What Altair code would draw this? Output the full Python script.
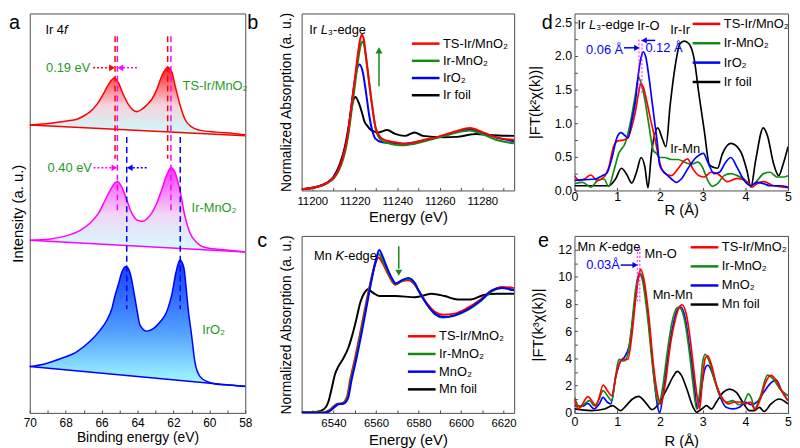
import altair as alt
import pandas as pd

FONT = "Arial"
RED = "#ff0000"
GRN = "#138a13"
BLU = "#0000ff"
BLK = "#000000"
MAG = "#ff00ff"
TGRN = "#1f9a1f"
FRAME = "#4d4d4d"

# ---------------- panel a : Ir 4f XPS ----------------
A_TS_E = [70.0, 68.85, 67.93, 67.37, 67.0, 66.63, 66.26, 65.9, 65.62, 65.29, 65.06, 64.79, 64.51, 64.23, 64.04,
          63.77, 63.49, 63.21, 62.93, 62.66, 62.32, 62.1, 61.92, 61.64, 61.36, 60.99, 60.53, 59.61, 58.69, 58.0]
A_TS_I = [291.3, 293.0, 295.3, 297.0, 300.3, 304.7, 312.0, 322.7, 332.0, 338.7, 333.7, 322.0, 312.0, 306.0, 304.7,
          307.0, 311.3, 317.0, 327.0, 340.3, 349.3, 345.3, 332.0, 312.0, 297.0, 289.3, 286.0, 284.0, 282.7, 281.3]
A_TS_BASE = [291.3, 280.3]
A_IR_E = [70.0, 68.85, 67.93, 67.19, 66.63, 66.17, 65.8, 65.52, 65.25, 65.12, 64.88, 64.6, 64.32, 64.04, 63.71,
          63.49, 63.21, 62.93, 62.66, 62.38, 62.14, 61.92, 61.64, 61.36, 61.08, 60.72, 60.16, 59.05, 58.0]
A_IR_I = [174.7, 176.0, 179.3, 184.7, 192.0, 202.0, 215.3, 225.3, 232.7, 233.7, 228.7, 215.3, 202.0, 195.3, 193.7,
          196.0, 202.0, 212.0, 225.3, 240.3, 248.0, 243.7, 225.3, 198.7, 182.0, 172.7, 167.0, 164.7, 162.7]
A_IR_BASE = [174.7, 162.7]
A_O2_E = [70.0, 69.22, 68.3, 67.37, 66.63, 66.08, 65.71, 65.43, 65.25, 65.06, 64.88, 64.64, 64.41, 64.23, 64.04,
          63.86, 63.49, 63.12, 62.75, 62.38, 62.2, 62.1, 61.86, 61.64, 61.42, 61.27, 61.18, 60.99, 60.81, 60.53,
          60.07, 59.42, 58.69, 58.0]
A_O2_I = [47.0, 49.3, 54.7, 62.0, 72.7, 83.7, 93.7, 105.3, 118.7, 130.3, 142.0, 148.0, 141.3, 125.3, 105.3,
          88.7, 82.7, 85.3, 92.0, 102.0, 112.0, 118.7, 142.0, 154.7, 147.0, 122.0, 105.3, 78.7, 52.0, 37.0,
          31.3, 28.7, 28.0, 27.0]
A_O2_BASE = [47.0, 26.7]
A_ENDS = [70.0, 58.0]
A_PEAKS_TS = [65.25, 62.32]
A_PEAKS_IR = [65.12, 62.14]
A_PEAKS_O2 = [64.60, 61.62]

# ---------------- panel b : Ir L3-edge XANES ----------------
B_NAMES = ["TS-Ir/MnO\u2082", "Ir-MnO\u2082", "IrO\u2082", "Ir foil"]
B_TS_E = [11195.0, 11202.3, 11206.9, 11210.0, 11212.2, 11214.5, 11216.8, 11218.3, 11219.9, 11221.4, 11222.6,
          11223.3, 11224.2, 11225.2, 11226.7, 11228.3, 11229.8, 11232.1, 11235.2, 11239.0, 11243.6, 11248.2,
          11252.8, 11258.9, 11268.0, 11274.2, 11280.3, 11286.4, 11295.0]
B_TS_V = [0.026, 0.074, 0.155, 0.26, 0.41, 0.68, 1.15, 1.68, 2.22, 2.76, 3.09, 3.17, 3.09, 2.76, 2.22, 1.68,
          1.28, 1.08, 1.01, 0.98, 0.95, 0.98, 1.03, 1.09, 1.21, 1.27, 1.18, 1.08, 1.03]
B_IR_E = [11195.0, 11202.3, 11206.9, 11210.0, 11212.2, 11214.5, 11216.8, 11218.5, 11220.1, 11221.6, 11222.8,
          11223.5, 11224.4, 11225.4, 11226.9, 11228.5, 11230.0, 11232.3, 11235.2, 11239.0, 11243.6, 11248.2,
          11252.8, 11258.9, 11268.0, 11274.2, 11280.3, 11286.4, 11295.0]
B_IR_V = [0.026, 0.07, 0.145, 0.24, 0.38, 0.63, 1.08, 1.62, 2.15, 2.66, 2.96, 3.03, 2.96, 2.66, 2.15, 1.62,
          1.22, 1.03, 0.97, 0.93, 0.92, 0.95, 1.0, 1.07, 1.18, 1.22, 1.14, 1.03, 0.96]
B_O2_E = [11195.0, 11202.3, 11206.9, 11210.0, 11212.2, 11214.5, 11216.8, 11218.3, 11219.9, 11221.1, 11222.2,
          11223.7, 11225.2, 11226.7, 11228.3, 11229.8, 11232.9, 11239.0, 11243.6, 11248.2, 11252.8, 11258.9,
          11268.0, 11273.5, 11280.3, 11286.4, 11295.0]
B_O2_V = [0.026, 0.074, 0.155, 0.26, 0.41, 0.68, 1.15, 1.68, 2.2, 2.48, 2.56, 2.42, 2.02, 1.55, 1.21, 1.05,
          0.98, 0.96, 0.95, 0.98, 1.02, 1.08, 1.19, 1.24, 1.17, 1.08, 1.0]
B_FOIL_E = [11195.0, 11202.3, 11206.9, 11210.0, 11213.0, 11215.3, 11217.3, 11218.8, 11220.3, 11221.9, 11223.4,
            11224.5, 11226.0, 11228.3, 11231.3, 11235.2, 11239.0, 11243.6, 11248.2, 11252.0, 11261.9, 11268.0,
            11277.2, 11283.3, 11295.0]
B_FOIL_V = [0.026, 0.074, 0.155, 0.28, 0.54, 0.88, 1.35, 1.75, 1.9, 1.78, 1.58, 1.41, 1.31, 1.21, 1.18, 1.23,
            1.15, 1.11, 1.18, 1.11, 1.08, 1.09, 1.15, 1.13, 1.11]

# ---------------- panel c : Mn K-edge XANES ----------------
C_NAMES = ["TS-Ir/MnO\u2082", "Ir-MnO\u2082", "MnO\u2082", "Mn foil"]
C_MN_E = [6525.0, 6535.4, 6538.4, 6540.7, 6542.3, 6544.6, 6546.9, 6548.4, 6550.8, 6553.1, 6555.4, 6557.7,
          6560.0, 6561.5, 6563.1, 6565.4, 6567.7, 6569.2, 6572.3, 6575.3, 6578.4, 6580.0, 6583.8, 6587.7,
          6591.5, 6596.9, 6603.0, 6609.2, 6614.6, 6619.2, 6625.0]
C_MN_V = [0.003, 0.0, 0.017, 0.055, 0.076, 0.081, 0.133, 0.28, 0.48, 0.69, 0.92, 1.15, 1.35, 1.436, 1.38,
          1.27, 1.18, 1.14, 1.17, 1.19, 1.14, 1.08, 0.96, 0.875, 0.846, 0.86, 0.91, 0.99, 1.08, 1.1, 1.08]
C_TS_E = [6525.0, 6535.4, 6538.0, 6540.2, 6541.8, 6544.0, 6546.3, 6547.8, 6550.2, 6552.5, 6554.8, 6557.1,
          6559.4, 6561.2, 6562.8, 6565.2, 6567.5, 6569.0, 6572.1, 6575.1, 6578.2, 6580.0, 6583.8, 6587.7,
          6591.5, 6596.9, 6603.0, 6609.2, 6614.6, 6619.2, 6625.0]
C_TS_V = [0.003, 0.005, 0.025, 0.06, 0.08, 0.085, 0.14, 0.29, 0.49, 0.7, 0.92, 1.13, 1.3, 1.37, 1.33, 1.24,
          1.16, 1.13, 1.16, 1.17, 1.13, 1.08, 0.97, 0.89, 0.865, 0.875, 0.925, 1.0, 1.08, 1.11, 1.1]
C_IR_E = [6525.0, 6535.4, 6538.2, 6540.4, 6542.0, 6544.3, 6546.6, 6548.1, 6550.5, 6552.8, 6555.1, 6557.4,
          6559.7, 6561.3, 6562.9, 6565.3, 6567.6, 6569.1, 6572.2, 6575.2, 6578.3, 6580.0, 6583.8, 6587.7,
          6591.5, 6596.9, 6603.0, 6609.2, 6614.6, 6619.2, 6625.0]
C_IR_V = [0.003, 0.003, 0.02, 0.057, 0.078, 0.083, 0.136, 0.285, 0.485, 0.695, 0.92, 1.14, 1.33, 1.40, 1.355,
          1.255, 1.17, 1.135, 1.165, 1.18, 1.135, 1.075, 0.96, 0.87, 0.84, 0.855, 0.905, 0.985, 1.07, 1.1, 1.08]
C_FOIL_E = [6525.0, 6532.3, 6535.4, 6537.7, 6539.2, 6540.7, 6542.3, 6544.6, 6546.9, 6548.9, 6550.8, 6552.7,
            6554.6, 6556.2, 6558.5, 6561.5, 6569.2, 6578.4, 6586.1, 6592.3, 6598.4, 6604.6, 6610.7, 6616.9,
            6625.0]
C_FOIL_V = [0.003, 0.011, 0.032, 0.105, 0.22, 0.34, 0.41, 0.48, 0.57, 0.69, 0.83, 0.98, 1.06, 1.09, 1.06,
            1.03, 1.03, 1.02, 1.05, 1.03, 1.0, 1.0, 1.04, 1.05, 1.05]

# ---------------- panel d : Ir L3-edge FT-EXAFS ----------------
D_FOIL_R = [0.0, 0.4, 0.8, 0.96, 1.1, 1.22, 1.34, 1.46, 1.56, 1.65, 1.72, 1.8, 1.95, 2.05, 2.14, 2.24, 2.36,
            2.47, 2.57, 2.68, 2.8, 2.92, 3.04, 3.16, 3.27, 3.35, 3.46, 3.66, 3.88, 4.04, 4.13, 4.24, 4.42, 4.52,
            4.66, 4.78, 4.89, 5.0]
D_FOIL_V = [0.07, 0.07, 0.07, 0.17, 0.33, 0.24, 0.11, 0.29, 0.49, 0.34, 0.04, 0.54, 0.93, 0.78, 0.65, 1.27,
            1.86, 2.18, 2.22, 2.18, 1.96, 1.4, 0.88, 0.38, 0.34, 0.33, 0.54, 0.7, 0.59, 0.29, 0.05, 0.44, 0.93,
            0.81, 0.4, 0.22, 0.4, 0.65]
D_TS_R = [0.0, 0.11, 0.23, 0.38, 0.53, 0.69, 0.8, 0.92, 1.03, 1.15, 1.25, 1.33, 1.42, 1.5, 1.55, 1.62, 1.7,
          1.8, 1.88, 1.96, 2.04, 2.15, 2.27, 2.42, 2.55, 2.65, 2.77, 2.92, 3.04, 3.19, 3.35, 3.58, 3.81, 4.04,
          4.16, 4.27, 4.43, 4.66, 4.89, 5.0]
D_TS_V = [0.22, 0.15, 0.17, 0.23, 0.15, 0.2, 0.34, 0.66, 0.74, 0.75, 0.78, 0.92, 1.15, 1.45, 1.58, 1.52, 1.3,
          1.0, 0.78, 0.52, 0.32, 0.24, 0.22, 0.32, 0.43, 0.47, 0.32, 0.22, 0.2, 0.27, 0.25, 0.13, 0.18, 0.13,
          0.05, 0.1, 0.13, 0.07, 0.05, 0.04]
D_IR_R = [0.0, 0.19, 0.38, 0.53, 0.69, 0.8, 0.92, 1.03, 1.19, 1.3, 1.42, 1.5, 1.58, 1.66, 1.74, 1.85, 1.92,
          1.99, 2.11, 2.27, 2.42, 2.58, 2.73, 2.89, 3.0, 3.12, 3.23, 3.35, 3.5, 3.66, 3.81, 3.97, 4.12, 4.24,
          4.43, 4.58, 4.74, 4.89, 5.0]
D_IR_V = [0.1, 0.12, 0.05, 0.14, 0.17, 0.06, 0.29, 0.54, 0.71, 0.98, 1.4, 1.68, 1.55, 1.3, 0.98, 0.59, 0.55,
          0.49, 0.49, 0.46, 0.46, 0.42, 0.39, 0.42, 0.34, 0.15, 0.06, 0.1, 0.22, 0.25, 0.22, 0.17, 0.07, 0.12,
          0.25, 0.27, 0.2, 0.2, 0.22]
D_O2_R = [0.0, 0.26, 0.49, 0.65, 0.76, 0.88, 0.99, 1.09, 1.19, 1.25, 1.34, 1.42, 1.5, 1.56, 1.61, 1.67, 1.74,
          1.82, 1.88, 1.94, 1.99, 2.07, 2.15, 2.27, 2.38, 2.5, 2.65, 2.85, 3.02, 3.12, 3.27, 3.39, 3.54, 3.66,
          3.81, 3.97, 4.12, 4.27, 4.43, 4.58, 4.81, 5.0]
D_O2_V = [0.15, 0.16, 0.17, 0.22, 0.26, 0.49, 0.78, 0.86, 0.81, 0.78, 1.03, 1.3, 1.75, 1.98, 2.06, 1.98, 1.7,
          1.3, 1.0, 0.7, 0.39, 0.29, 0.24, 0.17, 0.12, 0.17, 0.32, 0.49, 0.55, 0.42, 0.25, 0.27, 0.42, 0.49,
          0.34, 0.15, 0.07, 0.12, 0.1, 0.07, 0.07, 0.05]

# ---------------- panel e : Mn K-edge FT-EXAFS ----------------
E_TS_R = [0.0, 0.09, 0.19, 0.31, 0.43, 0.5, 0.58, 0.67, 0.77, 0.87, 0.97, 1.08, 1.16, 1.25, 1.35, 1.43, 1.51,
          1.55, 1.62, 1.74, 1.85, 1.97, 2.02, 2.13, 2.24, 2.36, 2.46, 2.52, 2.62, 2.72, 2.8, 2.88, 2.93, 3.0,
          3.06, 3.12, 3.2, 3.33, 3.48, 3.6, 3.75, 3.88, 4.0, 4.12, 4.22, 4.35, 4.47, 4.6, 4.72, 4.85, 5.0]
E_TS_V = [1.02, 0.29, 0.66, 1.2, 0.78, 0.49, 1.14, 2.05, 1.63, 1.26, 2.72, 3.81, 3.93, 3.93, 5.88, 8.31, 10.13,
          10.55, 9.89, 7.09, 3.45, 1.02, 0.66, 2.23, 4.91, 6.85, 7.82, 7.94, 7.21, 5.15, 2.96, 1.02, 0.3, 2.6,
          4.0, 4.2, 3.6, 2.0, 1.0, 0.66, 0.8, 0.8, 0.66, 0.8, 0.25, 1.0, 2.2, 2.75, 2.4, 1.6, 0.9]
E_IR_R = [0.0, 0.12, 0.23, 0.35, 0.46, 0.56, 0.67, 0.77, 0.87, 0.97, 1.04, 1.16, 1.24, 1.33, 1.43, 1.51, 1.58,
          1.7, 1.82, 1.93, 1.97, 2.07, 2.16, 2.28, 2.4, 2.45, 2.59, 2.7, 2.78, 2.86, 2.94, 3.0, 3.06, 3.15,
          3.27, 3.43, 3.58, 3.7, 3.85, 3.97, 4.07, 4.15, 4.22, 4.35, 4.52, 4.65, 4.8, 5.0]
E_IR_V = [1.14, 0.41, 0.66, 0.9, 0.53, 0.9, 1.63, 1.26, 0.9, 2.84, 3.93, 3.81, 4.18, 6.12, 9.04, 10.25, 9.89,
          7.34, 3.69, 1.02, 0.66, 1.99, 4.18, 6.61, 7.7, 7.75, 6.61, 4.18, 1.99, 0.29, 1.75, 3.69, 4.3, 3.82,
          2.48, 1.14, 0.79, 0.9, 0.6, 0.8, 1.4, 1.0, 0.3, 1.2, 2.77, 2.5, 1.8, 1.26]
E_O2_R = [0.0, 0.19, 0.31, 0.46, 0.58, 0.67, 0.77, 0.85, 0.97, 1.08, 1.16, 1.28, 1.39, 1.47, 1.53, 1.62, 1.74,
          1.85, 1.93, 1.99, 2.09, 2.2, 2.32, 2.43, 2.49, 2.59, 2.7, 2.8, 2.87, 2.98, 3.05, 3.12, 3.25, 3.4,
          3.55, 3.71, 3.86, 4.02, 4.13, 4.27, 4.43, 4.6, 4.72, 4.85, 5.0]
E_O2_V = [0.53, 0.49, 0.7, 0.29, 0.66, 1.14, 0.78, 0.66, 2.72, 3.81, 4.06, 4.91, 7.58, 9.64, 10.25, 9.52, 6.61,
          2.96, 0.78, 0.0, 1.75, 4.42, 6.61, 7.7, 7.77, 6.97, 4.66, 2.23, 0.29, 1.99, 3.21, 3.5, 2.72, 1.26,
          0.41, 0.29, 0.41, 0.78, 0.6, 0.79, 1.51, 2.2, 2.43, 1.63, 0.9]
E_FOIL_R = [0.0, 0.39, 0.7, 0.89, 1.08, 1.2, 1.35, 1.5, 1.66, 1.82, 1.97, 2.16, 2.32, 2.4, 2.51, 2.63, 2.78,
            2.86, 2.98, 3.09, 3.21, 3.32, 3.48, 3.63, 3.79, 3.94, 4.1, 4.21, 4.33, 4.44, 4.6, 4.79, 5.0]
E_FOIL_V = [0.29, 0.17, 0.29, 0.53, 0.17, 0.5, 1.0, 1.21, 0.78, 0.24, 0.66, 1.75, 2.72, 3.05, 2.72, 1.75, 0.41,
            0.05, 0.29, 0.53, 0.29, 0.78, 1.51, 1.75, 1.51, 0.78, 0.17, 0.17, 0.41, 0.1, 0.66, 1.02, 0.66]


# ---------------- helpers ----------------
def XQ(domain, axis, reverse=False):
    return alt.X("x:Q", scale=alt.Scale(domain=domain, nice=False, zero=False, reverse=reverse), axis=axis)


def YQ(domain, axis):
    return alt.Y("y:Q", scale=alt.Scale(domain=domain, nice=False, zero=False), axis=axis)


def bottom_axis(title, values, expr, fmt, lsize, lpad, tsize, tpad):
    return alt.Axis(title=title, values=values, labelExpr=expr, format=fmt, offset=-3, tickSize=3,
                    domain=False, labelPadding=lpad, labelFontSize=lsize, titleFontSize=tsize,
                    titlePadding=tpad, labelFlush=False, labelOverlap=False)


def hrule(X, Y, x1, x2, y, color, dash=None, width=1.5):
    d = pd.DataFrame({"x": x1, "x2": x2, "y": y})
    kw = dict(color=color, strokeWidth=width)
    if dash:
        kw["strokeDash"] = dash
    return alt.Chart(d).mark_rule(**kw).encode(x=X, x2="x2:Q", y=Y)


def vrule(X, Y, x, y1, y2, color, dash=None, width=1.5):
    d = pd.DataFrame({"x": x, "y": y1, "y2": y2})
    kw = dict(color=color, strokeWidth=width)
    if dash:
        kw["strokeDash"] = dash
    return alt.Chart(d).mark_rule(**kw).encode(x=X, y=Y, y2="y2:Q")


def head(X, Y, x, y, color, shape, size=45):
    d = pd.DataFrame({"x": x, "y": y})
    return alt.Chart(d).mark_point(shape=shape, filled=True, size=size, color=color, opacity=1,
                                   strokeWidth=0).encode(x=X, y=Y)


def label(X, Y, x, y, texts, color="black", size=13, align="left", style="normal", dx=0):
    d = pd.DataFrame({"x": x, "y": y, "t": texts})
    return alt.Chart(d).mark_text(color=color, fontSize=size, align=align, baseline="middle",
                                  fontStyle=style, dx=dx, font=FONT).encode(x=X, y=Y, text="t:N")


def letter(ch, px, py):
    return alt.Chart(pd.DataFrame({"t": [ch]})).mark_text(
        fontSize=20, align="left", baseline="top", font=FONT, color="black"
    ).encode(x=alt.value(px), y=alt.value(py), text="t:N")


def curves(X, Y, series, names, colors, legend, width=2.0):
    frames = [pd.DataFrame({"x": xs, "y": ys, "s": n}) for n, xs, ys in series]
    d = pd.concat(frames, ignore_index=True)
    return alt.Chart(d).mark_line(strokeWidth=width, interpolate="monotone", clip=True).encode(
        x=X, y=Y, color=alt.Color("s:N", scale=alt.Scale(domain=names, range=colors), legend=legend))


def leg(x, y, pad=1):
    # legend line drawn as a custom path twice as wide as the nominal symbol box
    return alt.Legend(orient="none", legendX=x + 7, legendY=y, title=None, symbolType="M-2,0H2",
                      symbolSize=196, symbolStrokeWidth=2.5, symbolFillColor="transparent",
                      labelFontSize=13, labelFont=FONT, labelColor="black",
                      rowPadding=pad, labelOffset=9, padding=0)


def grad(c0, c1, c2):
    return alt.Gradient(gradient="linear", x1=1, x2=1, y1=0, y2=1,
                        stops=[alt.GradientStop(color=c0, offset=0), alt.GradientStop(color=c1, offset=0.55),
                               alt.GradientStop(color=c2, offset=1)])


# ---------------- panel a ----------------
XA = XQ([58, 70], bottom_axis("Binding energy (eV)", list(range(58, 71)),
                              "datum.value % 2 == 0 ? datum.label : ''", "d", 12, 5, 14, 2), reverse=True)
YA = YQ([0, 404], alt.Axis(title="Intensity (a. u.)", labels=False, ticks=False, domain=False,
                           titleFontSize=15, titlePadding=4))


def spectrum(E, I, base, color, fill):
    d = pd.DataFrame({"x": E, "y": I})
    d["y2"] = base[0] + (base[1] - base[0]) * (A_ENDS[0] - d["x"]) / (A_ENDS[0] - A_ENDS[1])
    area = alt.Chart(d).mark_area(color=fill, interpolate="monotone").encode(x=XA, y=YA, y2="y2:Q")
    bl = alt.Chart(pd.DataFrame({"x": A_ENDS, "y": base})).mark_line(color=color, strokeWidth=1.5).encode(x=XA, y=YA)
    ln = alt.Chart(d).mark_line(color=color, strokeWidth=1.5, interpolate="monotone").encode(x=XA, y=YA)
    return [area, bl, ln]


a_layers = []
a_layers += spectrum(A_TS_E, A_TS_I, A_TS_BASE, RED, grad("#ff2020", "#f6d2dc", "#c8ffff"))
a_layers += spectrum(A_IR_E, A_IR_I, A_IR_BASE, MAG, grad("#ff30ff", "#f2d6f6", "#d2ffff"))
a_layers += spectrum(A_O2_E, A_O2_I, A_O2_BASE, BLU, grad("#1038ff", "#4f9cff", "#a8ffff"))
a_layers += [
    vrule(XA, YA, A_PEAKS_TS, [381, 381], [257, 257], RED, dash=[6, 4]),
    vrule(XA, YA, A_PEAKS_IR, [381, 381], [202, 202], MAG, dash=[6, 4]),
    vrule(XA, YA, A_PEAKS_O2, [279, 279], [105, 105], BLU, dash=[6, 4]),
    hrule(XA, YA, [66.47], [65.45], [349], RED, dash=[2, 2]),
    head(XA, YA, [65.42], [349], RED, "triangle-right"),
    hrule(XA, YA, [64.03], [64.9], [349], MAG, dash=[2, 2]),
    head(XA, YA, [64.95], [349], MAG, "triangle-left"),
    hrule(XA, YA, [66.45], [65.33], [248], MAG, dash=[2, 2]),
    head(XA, YA, [65.29], [248], MAG, "triangle-right"),
    hrule(XA, YA, [63.49], [64.4], [248], BLU, dash=[2, 2]),
    head(XA, YA, [64.43], [248], BLU, "triangle-left"),
    label(XA, YA, [66.63, 66.54], [349, 248], ["0.19 eV", "0.40 eV"], color=TGRN, align="right"),
    label(XA, YA, [61.49, 60.99, 60.4], [331, 207, 84], ["TS-Ir/MnO\u2082", "Ir-MnO\u2082", "IrO\u2082"],
          color=TGRN),
    label(XA, YA, [69.13], [387], ["Ir 4"]),
    label(XA, YA, [69.13], [387], ["f"], style="italic", dx=18.8),
    letter("a", -21, 0),
]
panel_a = alt.layer(*a_layers).properties(width=218, height=404)

# ---------------- panel b ----------------
XB = XQ([11195, 11295], bottom_axis("Energy (eV)", list(range(11200, 11291, 10)),
                                    "datum.value % 20 == 0 ? datum.label : ''", "d", 11.5, 5, 15, 3))
YB = YQ([0, 3.6], alt.Axis(title="Normalized Absorption (a. u.)", labels=False, ticks=False, domain=False,
                           titleFontSize=14, titlePadding=8))
panel_b = alt.layer(
    curves(XB, YB, [(B_NAMES[3], B_FOIL_E, B_FOIL_V), (B_NAMES[2], B_O2_E, B_O2_V),
                    (B_NAMES[1], B_IR_E, B_IR_V), (B_NAMES[0], B_TS_E, B_TS_V)],
           B_NAMES, [RED, GRN, BLU, BLK], leg(110, 22, pad=1.4)),
    vrule(XB, YB, [11231.4], [2.12], [2.8], GRN),
    head(XB, YB, [11231.4], [2.85], GRN, "triangle-up", size=50),
    label(XB, YB, [11198.6], [3.26], ["Ir "]),
    label(XB, YB, [11198.6], [3.26], ["L"], style="italic", dx=11.6),
    label(XB, YB, [11198.6], [3.26], ["\u2083-edge"], dx=18.8),
    letter("b", -55, 0),
).properties(width=215, height=179)

# ---------------- panel c ----------------
XC = XQ([6525, 6625], bottom_axis("Energy (eV)", list(range(6530, 6621, 10)),
                                  "datum.value % 20 == 0 ? datum.label : ''", "d", 11.5, 5, 15, 3))
YC = YQ([0, 1.56], alt.Axis(title="Normalized Absorption (a. u.)", labels=False, ticks=False, domain=False,
                            titleFontSize=14, titlePadding=8))
panel_c = alt.layer(
    curves(XC, YC, [(C_NAMES[3], C_FOIL_E, C_FOIL_V), (C_NAMES[0], C_TS_E, C_TS_V),
                    (C_NAMES[1], C_IR_E, C_IR_V), (C_NAMES[2], C_MN_E, C_MN_V)],
           C_NAMES, [RED, GRN, BLU, BLK], leg(106, 93, pad=1.9)),
    vrule(XC, YC, [6570.7], [1.47], [1.27], GRN),
    head(XC, YC, [6570.7], [1.235], GRN, "triangle-down", size=50),
    label(XC, YC, [6530.8], [1.38], ["Mn "]),
    label(XC, YC, [6530.8], [1.38], ["K"], style="italic", dx=21.7),
    label(XC, YC, [6530.8], [1.38], ["-edge"], dx=30.4),
    letter("c", -45, -5),
).properties(width=215, height=179)

# ---------------- panel d ----------------
R_TICKS = [i * 0.5 for i in range(11)]
XD = XQ([0, 5], bottom_axis("R (\u00c5)", R_TICKS, "datum.value % 1 == 0 ? datum.label : ''", "d",
                            12.5, 0, 15, 0))
YD = YQ([0, 2.63], alt.Axis(title="|FT(k\u00b2\u03c7(k))|", values=[i * 0.25 for i in range(11)],
                            labelExpr="datum.value % 0.5 == 0 ? datum.label : ''", format=".1f",
                            offset=-3, tickSize=3, domain=False, labelPadding=3, labelFontSize=12.5,
                            titleFontSize=15, titlePadding=12, labelFlush=False, labelOverlap=False))
panel_d = alt.layer(
    curves(XD, YD, [(B_NAMES[3], D_FOIL_R, D_FOIL_V), (B_NAMES[1], D_IR_R, D_IR_V),
                    (B_NAMES[0], D_TS_R, D_TS_V), (B_NAMES[2], D_O2_R, D_O2_V)],
           B_NAMES, [RED, GRN, BLU, BLK], leg(118, 2, pad=3.6), width=1.7),
    vrule(XD, YD, [1.51, 1.58], [1.45, 1.45], [2.25, 2.25], MAG, dash=[2, 2], width=1),
    hrule(XD, YD, [1.16], [1.44], [2.12], BLU),
    head(XD, YD, [1.46], [2.12], BLU, "triangle-right", size=40),
    hrule(XD, YD, [1.89], [1.65], [2.23], BLU),
    head(XD, YD, [1.63], [2.23], BLU, "triangle-left", size=40),
    label(XD, YD, [1.14], [2.08], ["0.06 \u00c5"], color=BLU, align="right"),
    label(XD, YD, [1.66], [2.12], ["0.12 \u00c5"], color=BLU),
    label(XD, YD, [1.47, 2.24, 2.24], [2.44, 2.38, 0.61], ["Ir-O", "Ir-Ir", "Ir-Mn"]),
    label(XD, YD, [0.07], [2.46], ["Ir "]),
    label(XD, YD, [0.07], [2.46], ["L"], style="italic", dx=11.6),
    label(XD, YD, [0.07], [2.46], ["\u2083-edge"], dx=18.8),
    letter("d", -33, 0),
).properties(width=216, height=179)

# ---------------- panel e ----------------
XE = XQ([0, 5], bottom_axis("R (\u00c5)", R_TICKS, "datum.value % 1 == 0 ? datum.label : ''", "d",
                            12.5, 3, 15, 5))
YE = YQ([0, 13], alt.Axis(title="|FT(k\u00b3\u03c7(k))|", values=list(range(13)),
                          labelExpr="datum.value % 2 == 0 ? datum.label : ''", format="d",
                          offset=-3, tickSize=3, domain=False, labelPadding=3, labelFontSize=12.5,
                          titleFontSize=15, titlePadding=12, labelFlush=False, labelOverlap=False))
panel_e = alt.layer(
    curves(XE, YE, [(C_NAMES[3], E_FOIL_R, E_FOIL_V), (C_NAMES[2], E_O2_R, E_O2_V),
                    (C_NAMES[1], E_IR_R, E_IR_V), (C_NAMES[0], E_TS_R, E_TS_V)],
           C_NAMES, [RED, GRN, BLU, BLK], leg(116, 3, pad=3.3), width=1.7),
    vrule(XE, YE, [1.47, 1.53], [8.19, 8.19], [12.19, 12.19], MAG, dash=[2, 2], width=1),
    hrule(XE, YE, [1.08], [1.4], [10.86], BLU),
    head(XE, YE, [1.42], [10.86], BLU, "triangle-right", size=40),
    label(XE, YE, [1.06], [10.86], ["0.03\u00c5"], color=BLU, align="right"),
    label(XE, YE, [1.64, 1.83], [11.7, 8.67], ["Mn-O", "Mn-Mn"]),
    label(XE, YE, [0.07], [12.15], ["Mn "]),
    label(XE, YE, [0.07], [12.15], ["K"], style="italic", dx=21.7),
    label(XE, YE, [0.07], [12.15], ["-edge"], dx=30.4),
    letter("e", -37, -5),
).properties(width=216, height=179)

# ---------------- layout ----------------
grid = alt.concat(panel_b, panel_d, panel_c, panel_e, columns=2,
                  spacing={"row": 46, "column": 61}, bounds="flush").resolve_scale(color="independent")
chart = alt.hconcat(panel_a, grid, spacing=57, bounds="flush").resolve_scale(color="independent")

chart = chart.properties(
    padding={"left": 0, "top": 0, "right": 0, "bottom": 0}, background="white"
).configure_view(stroke=FRAME, strokeWidth=1).configure_axis(
    labelFont=FONT, titleFont=FONT, titleFontWeight="normal", labelColor="black", titleColor="black",
    tickColor=FRAME, tickWidth=1, grid=False
).configure_legend(labelFont=FONT).configure_mark(font=FONT)

chart.save("out.html", embed_options={"renderer": "svg", "actions": False})
